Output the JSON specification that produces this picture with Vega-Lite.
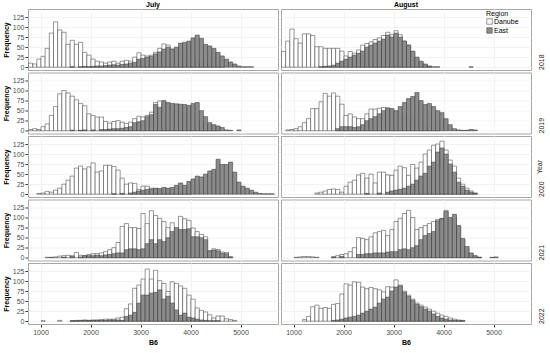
{
"$schema":"https://vega.github.io/schema/vega-lite/v6.json",
"padding":{"left":2,"top":1,"right":0,"bottom":0},
"bounds":"flush",
"datasets":{"h":[
{"m":"July","y":2018,"r":"Danube","b":750,"n":10},{"m":"July","y":2018,"r":"Danube","b":833,"n":8},{"m":"July","y":2018,"r":"Danube","b":917,"n":20},{"m":"July","y":2018,"r":"Danube","b":1000,"n":27},{"m":"July","y":2018,"r":"Danube","b":1083,"n":47},{"m":"July","y":2018,"r":"Danube","b":1167,"n":85},{"m":"July","y":2018,"r":"Danube","b":1250,"n":113},{"m":"July","y":2018,"r":"Danube","b":1333,"n":93},{"m":"July","y":2018,"r":"Danube","b":1417,"n":87},{"m":"July","y":2018,"r":"Danube","b":1500,"n":57},{"m":"July","y":2018,"r":"Danube","b":1583,"n":67},{"m":"July","y":2018,"r":"Danube","b":1667,"n":57},{"m":"July","y":2018,"r":"Danube","b":1750,"n":62},{"m":"July","y":2018,"r":"Danube","b":1833,"n":37},{"m":"July","y":2018,"r":"Danube","b":1917,"n":30},{"m":"July","y":2018,"r":"Danube","b":2000,"n":20},{"m":"July","y":2018,"r":"Danube","b":2083,"n":15},{"m":"July","y":2018,"r":"Danube","b":2167,"n":13},{"m":"July","y":2018,"r":"Danube","b":2250,"n":10},{"m":"July","y":2018,"r":"Danube","b":2333,"n":13},{"m":"July","y":2018,"r":"Danube","b":2417,"n":15},{"m":"July","y":2018,"r":"Danube","b":2500,"n":10},{"m":"July","y":2018,"r":"Danube","b":2583,"n":15},{"m":"July","y":2018,"r":"Danube","b":2667,"n":17},{"m":"July","y":2018,"r":"Danube","b":2750,"n":15},{"m":"July","y":2018,"r":"Danube","b":2833,"n":25},{"m":"July","y":2018,"r":"Danube","b":2917,"n":36},{"m":"July","y":2018,"r":"Danube","b":3000,"n":30},{"m":"July","y":2018,"r":"Danube","b":3083,"n":28},{"m":"July","y":2018,"r":"Danube","b":3167,"n":30},{"m":"July","y":2018,"r":"Danube","b":3250,"n":37},{"m":"July","y":2018,"r":"Danube","b":3333,"n":47},{"m":"July","y":2018,"r":"Danube","b":3417,"n":58},{"m":"July","y":2018,"r":"Danube","b":3500,"n":55},{"m":"July","y":2018,"r":"Danube","b":3583,"n":45},{"m":"July","y":2018,"r":"Danube","b":3667,"n":40},{"m":"July","y":2018,"r":"Danube","b":3750,"n":38},{"m":"July","y":2018,"r":"Danube","b":3833,"n":35},{"m":"July","y":2018,"r":"Danube","b":3917,"n":30},{"m":"July","y":2018,"r":"Danube","b":4000,"n":25},{"m":"July","y":2018,"r":"Danube","b":4083,"n":20},{"m":"July","y":2018,"r":"Danube","b":4167,"n":15},{"m":"July","y":2018,"r":"Danube","b":4250,"n":10},{"m":"July","y":2018,"r":"Danube","b":4333,"n":8},{"m":"July","y":2018,"r":"Danube","b":4417,"n":5},{"m":"July","y":2018,"r":"Danube","b":4500,"n":3},{"m":"July","y":2018,"r":"Danube","b":4583,"n":2},
{"m":"August","y":2018,"r":"Danube","b":750,"n":39},{"m":"August","y":2018,"r":"Danube","b":833,"n":65},{"m":"August","y":2018,"r":"Danube","b":917,"n":95},{"m":"August","y":2018,"r":"Danube","b":1000,"n":71},{"m":"August","y":2018,"r":"Danube","b":1083,"n":60},{"m":"August","y":2018,"r":"Danube","b":1167,"n":83},{"m":"August","y":2018,"r":"Danube","b":1250,"n":83},{"m":"August","y":2018,"r":"Danube","b":1333,"n":79},{"m":"August","y":2018,"r":"Danube","b":1417,"n":51},{"m":"August","y":2018,"r":"Danube","b":1500,"n":51},{"m":"August","y":2018,"r":"Danube","b":1583,"n":47},{"m":"August","y":2018,"r":"Danube","b":1667,"n":47},{"m":"August","y":2018,"r":"Danube","b":1750,"n":47},{"m":"August","y":2018,"r":"Danube","b":1833,"n":47},{"m":"August","y":2018,"r":"Danube","b":1917,"n":40},{"m":"August","y":2018,"r":"Danube","b":2000,"n":28},{"m":"August","y":2018,"r":"Danube","b":2083,"n":39},{"m":"August","y":2018,"r":"Danube","b":2167,"n":35},{"m":"August","y":2018,"r":"Danube","b":2250,"n":43},{"m":"August","y":2018,"r":"Danube","b":2333,"n":55},{"m":"August","y":2018,"r":"Danube","b":2417,"n":59},{"m":"August","y":2018,"r":"Danube","b":2500,"n":63},{"m":"August","y":2018,"r":"Danube","b":2583,"n":69},{"m":"August","y":2018,"r":"Danube","b":2667,"n":73},{"m":"August","y":2018,"r":"Danube","b":2750,"n":79},{"m":"August","y":2018,"r":"Danube","b":2833,"n":87},{"m":"August","y":2018,"r":"Danube","b":2917,"n":81},{"m":"August","y":2018,"r":"Danube","b":3000,"n":91},{"m":"August","y":2018,"r":"Danube","b":3083,"n":81},{"m":"August","y":2018,"r":"Danube","b":3167,"n":65},{"m":"August","y":2018,"r":"Danube","b":3250,"n":55},{"m":"August","y":2018,"r":"Danube","b":3333,"n":38},{"m":"August","y":2018,"r":"Danube","b":3417,"n":22},{"m":"August","y":2018,"r":"Danube","b":3500,"n":12},{"m":"August","y":2018,"r":"Danube","b":3583,"n":6},{"m":"August","y":2018,"r":"Danube","b":3667,"n":2},
{"m":"July","y":2019,"r":"Danube","b":750,"n":3},{"m":"July","y":2019,"r":"Danube","b":833,"n":5},{"m":"July","y":2019,"r":"Danube","b":917,"n":3},{"m":"July","y":2019,"r":"Danube","b":1000,"n":10},{"m":"July","y":2019,"r":"Danube","b":1083,"n":17},{"m":"July","y":2019,"r":"Danube","b":1167,"n":38},{"m":"July","y":2019,"r":"Danube","b":1250,"n":60},{"m":"July","y":2019,"r":"Danube","b":1333,"n":92},{"m":"July","y":2019,"r":"Danube","b":1417,"n":100},{"m":"July","y":2019,"r":"Danube","b":1500,"n":94},{"m":"July","y":2019,"r":"Danube","b":1583,"n":86},{"m":"July","y":2019,"r":"Danube","b":1667,"n":77},{"m":"July","y":2019,"r":"Danube","b":1750,"n":68},{"m":"July","y":2019,"r":"Danube","b":1833,"n":62},{"m":"July","y":2019,"r":"Danube","b":1917,"n":42},{"m":"July","y":2019,"r":"Danube","b":2000,"n":38},{"m":"July","y":2019,"r":"Danube","b":2083,"n":34},{"m":"July","y":2019,"r":"Danube","b":2167,"n":34},{"m":"July","y":2019,"r":"Danube","b":2250,"n":23},{"m":"July","y":2019,"r":"Danube","b":2333,"n":19},{"m":"July","y":2019,"r":"Danube","b":2417,"n":23},{"m":"July","y":2019,"r":"Danube","b":2500,"n":25},{"m":"July","y":2019,"r":"Danube","b":2583,"n":21},{"m":"July","y":2019,"r":"Danube","b":2667,"n":18},{"m":"July","y":2019,"r":"Danube","b":2750,"n":21},{"m":"July","y":2019,"r":"Danube","b":2833,"n":30},{"m":"July","y":2019,"r":"Danube","b":2917,"n":36},{"m":"July","y":2019,"r":"Danube","b":3000,"n":34},{"m":"July","y":2019,"r":"Danube","b":3083,"n":38},{"m":"July","y":2019,"r":"Danube","b":3167,"n":46},{"m":"July","y":2019,"r":"Danube","b":3250,"n":70},{"m":"July","y":2019,"r":"Danube","b":3333,"n":74},{"m":"July","y":2019,"r":"Danube","b":3417,"n":65},{"m":"July","y":2019,"r":"Danube","b":3500,"n":60},{"m":"July","y":2019,"r":"Danube","b":3583,"n":55},{"m":"July","y":2019,"r":"Danube","b":3667,"n":50},{"m":"July","y":2019,"r":"Danube","b":3750,"n":45},{"m":"July","y":2019,"r":"Danube","b":3833,"n":40},{"m":"July","y":2019,"r":"Danube","b":3917,"n":35},{"m":"July","y":2019,"r":"Danube","b":4000,"n":30},{"m":"July","y":2019,"r":"Danube","b":4083,"n":25},{"m":"July","y":2019,"r":"Danube","b":4167,"n":18},{"m":"July","y":2019,"r":"Danube","b":4250,"n":12},{"m":"July","y":2019,"r":"Danube","b":4333,"n":8},{"m":"July","y":2019,"r":"Danube","b":4417,"n":5},{"m":"July","y":2019,"r":"Danube","b":4500,"n":3},
{"m":"August","y":2019,"r":"Danube","b":833,"n":2},{"m":"August","y":2019,"r":"Danube","b":917,"n":3},{"m":"August","y":2019,"r":"Danube","b":1000,"n":5},{"m":"August","y":2019,"r":"Danube","b":1083,"n":10},{"m":"August","y":2019,"r":"Danube","b":1167,"n":20},{"m":"August","y":2019,"r":"Danube","b":1250,"n":30},{"m":"August","y":2019,"r":"Danube","b":1333,"n":55},{"m":"August","y":2019,"r":"Danube","b":1417,"n":55},{"m":"August","y":2019,"r":"Danube","b":1500,"n":72},{"m":"August","y":2019,"r":"Danube","b":1583,"n":93},{"m":"August","y":2019,"r":"Danube","b":1667,"n":86},{"m":"August","y":2019,"r":"Danube","b":1750,"n":94},{"m":"August","y":2019,"r":"Danube","b":1833,"n":86},{"m":"August","y":2019,"r":"Danube","b":1917,"n":66},{"m":"August","y":2019,"r":"Danube","b":2000,"n":38},{"m":"August","y":2019,"r":"Danube","b":2083,"n":42},{"m":"August","y":2019,"r":"Danube","b":2167,"n":34},{"m":"August","y":2019,"r":"Danube","b":2250,"n":30},{"m":"August","y":2019,"r":"Danube","b":2333,"n":30},{"m":"August","y":2019,"r":"Danube","b":2417,"n":42},{"m":"August","y":2019,"r":"Danube","b":2500,"n":54},{"m":"August","y":2019,"r":"Danube","b":2583,"n":54},{"m":"August","y":2019,"r":"Danube","b":2667,"n":56},{"m":"August","y":2019,"r":"Danube","b":2750,"n":58},{"m":"August","y":2019,"r":"Danube","b":2833,"n":55},{"m":"August","y":2019,"r":"Danube","b":2917,"n":50},{"m":"August","y":2019,"r":"Danube","b":3000,"n":45},{"m":"August","y":2019,"r":"Danube","b":3083,"n":45},{"m":"August","y":2019,"r":"Danube","b":3167,"n":40},{"m":"August","y":2019,"r":"Danube","b":3250,"n":35},{"m":"August","y":2019,"r":"Danube","b":3333,"n":30},{"m":"August","y":2019,"r":"Danube","b":3417,"n":25},{"m":"August","y":2019,"r":"Danube","b":3500,"n":20},{"m":"August","y":2019,"r":"Danube","b":3583,"n":15},{"m":"August","y":2019,"r":"Danube","b":3667,"n":10},{"m":"August","y":2019,"r":"Danube","b":3750,"n":8},{"m":"August","y":2019,"r":"Danube","b":3833,"n":5},
{"m":"July","y":2020,"r":"Danube","b":917,"n":2},{"m":"July","y":2020,"r":"Danube","b":1000,"n":3},{"m":"July","y":2020,"r":"Danube","b":1083,"n":7},{"m":"July","y":2020,"r":"Danube","b":1167,"n":5},{"m":"July","y":2020,"r":"Danube","b":1250,"n":10},{"m":"July","y":2020,"r":"Danube","b":1333,"n":15},{"m":"July","y":2020,"r":"Danube","b":1417,"n":25},{"m":"July","y":2020,"r":"Danube","b":1500,"n":35},{"m":"July","y":2020,"r":"Danube","b":1583,"n":45},{"m":"July","y":2020,"r":"Danube","b":1667,"n":65},{"m":"July","y":2020,"r":"Danube","b":1750,"n":70},{"m":"July","y":2020,"r":"Danube","b":1833,"n":63},{"m":"July","y":2020,"r":"Danube","b":1917,"n":68},{"m":"July","y":2020,"r":"Danube","b":2000,"n":78},{"m":"July","y":2020,"r":"Danube","b":2083,"n":55},{"m":"July","y":2020,"r":"Danube","b":2167,"n":58},{"m":"July","y":2020,"r":"Danube","b":2250,"n":72},{"m":"July","y":2020,"r":"Danube","b":2333,"n":72},{"m":"July","y":2020,"r":"Danube","b":2417,"n":69},{"m":"July","y":2020,"r":"Danube","b":2500,"n":60},{"m":"July","y":2020,"r":"Danube","b":2583,"n":40},{"m":"July","y":2020,"r":"Danube","b":2667,"n":25},{"m":"July","y":2020,"r":"Danube","b":2750,"n":28},{"m":"July","y":2020,"r":"Danube","b":2833,"n":27},{"m":"July","y":2020,"r":"Danube","b":2917,"n":12},{"m":"July","y":2020,"r":"Danube","b":3000,"n":20},{"m":"July","y":2020,"r":"Danube","b":3083,"n":20},{"m":"July","y":2020,"r":"Danube","b":3167,"n":15},{"m":"July","y":2020,"r":"Danube","b":3250,"n":14},{"m":"July","y":2020,"r":"Danube","b":3333,"n":12},{"m":"July","y":2020,"r":"Danube","b":3417,"n":10},{"m":"July","y":2020,"r":"Danube","b":3500,"n":8},{"m":"July","y":2020,"r":"Danube","b":3583,"n":6},{"m":"July","y":2020,"r":"Danube","b":3667,"n":5},{"m":"July","y":2020,"r":"Danube","b":3750,"n":4},{"m":"July","y":2020,"r":"Danube","b":3833,"n":3},{"m":"July","y":2020,"r":"Danube","b":3917,"n":2},
{"m":"August","y":2020,"r":"Danube","b":1417,"n":3},{"m":"August","y":2020,"r":"Danube","b":1500,"n":5},{"m":"August","y":2020,"r":"Danube","b":1583,"n":8},{"m":"August","y":2020,"r":"Danube","b":1667,"n":12},{"m":"August","y":2020,"r":"Danube","b":1750,"n":13},{"m":"August","y":2020,"r":"Danube","b":1833,"n":12},{"m":"August","y":2020,"r":"Danube","b":1917,"n":5},{"m":"August","y":2020,"r":"Danube","b":2000,"n":20},{"m":"August","y":2020,"r":"Danube","b":2083,"n":30},{"m":"August","y":2020,"r":"Danube","b":2167,"n":35},{"m":"August","y":2020,"r":"Danube","b":2250,"n":48},{"m":"August","y":2020,"r":"Danube","b":2333,"n":52},{"m":"August","y":2020,"r":"Danube","b":2417,"n":40},{"m":"August","y":2020,"r":"Danube","b":2500,"n":50},{"m":"August","y":2020,"r":"Danube","b":2583,"n":28},{"m":"August","y":2020,"r":"Danube","b":2667,"n":55},{"m":"August","y":2020,"r":"Danube","b":2750,"n":55},{"m":"August","y":2020,"r":"Danube","b":2833,"n":48},{"m":"August","y":2020,"r":"Danube","b":2917,"n":47},{"m":"August","y":2020,"r":"Danube","b":3000,"n":60},{"m":"August","y":2020,"r":"Danube","b":3083,"n":70},{"m":"August","y":2020,"r":"Danube","b":3167,"n":66},{"m":"August","y":2020,"r":"Danube","b":3250,"n":47},{"m":"August","y":2020,"r":"Danube","b":3333,"n":74},{"m":"August","y":2020,"r":"Danube","b":3417,"n":65},{"m":"August","y":2020,"r":"Danube","b":3500,"n":80},{"m":"August","y":2020,"r":"Danube","b":3583,"n":100},{"m":"August","y":2020,"r":"Danube","b":3667,"n":110},{"m":"August","y":2020,"r":"Danube","b":3750,"n":122},{"m":"August","y":2020,"r":"Danube","b":3833,"n":125},{"m":"August","y":2020,"r":"Danube","b":3917,"n":132},{"m":"August","y":2020,"r":"Danube","b":4000,"n":110},{"m":"August","y":2020,"r":"Danube","b":4083,"n":85},{"m":"August","y":2020,"r":"Danube","b":4167,"n":70},{"m":"August","y":2020,"r":"Danube","b":4250,"n":40},{"m":"August","y":2020,"r":"Danube","b":4333,"n":25},{"m":"August","y":2020,"r":"Danube","b":4417,"n":15},{"m":"August","y":2020,"r":"Danube","b":4500,"n":8},{"m":"August","y":2020,"r":"Danube","b":4583,"n":3},
{"m":"July","y":2021,"r":"Danube","b":1083,"n":1},{"m":"July","y":2021,"r":"Danube","b":1250,"n":2},{"m":"July","y":2021,"r":"Danube","b":1333,"n":4},{"m":"July","y":2021,"r":"Danube","b":1417,"n":5},{"m":"July","y":2021,"r":"Danube","b":1500,"n":6},{"m":"July","y":2021,"r":"Danube","b":1583,"n":5},{"m":"July","y":2021,"r":"Danube","b":1667,"n":13},{"m":"July","y":2021,"r":"Danube","b":1750,"n":6},{"m":"July","y":2021,"r":"Danube","b":1833,"n":5},{"m":"July","y":2021,"r":"Danube","b":1917,"n":8},{"m":"July","y":2021,"r":"Danube","b":2000,"n":10},{"m":"July","y":2021,"r":"Danube","b":2083,"n":10},{"m":"July","y":2021,"r":"Danube","b":2167,"n":12},{"m":"July","y":2021,"r":"Danube","b":2250,"n":15},{"m":"July","y":2021,"r":"Danube","b":2333,"n":20},{"m":"July","y":2021,"r":"Danube","b":2417,"n":25},{"m":"July","y":2021,"r":"Danube","b":2500,"n":38},{"m":"July","y":2021,"r":"Danube","b":2583,"n":78},{"m":"July","y":2021,"r":"Danube","b":2667,"n":85},{"m":"July","y":2021,"r":"Danube","b":2750,"n":75},{"m":"July","y":2021,"r":"Danube","b":2833,"n":75},{"m":"July","y":2021,"r":"Danube","b":2917,"n":73},{"m":"July","y":2021,"r":"Danube","b":3000,"n":110},{"m":"July","y":2021,"r":"Danube","b":3083,"n":85},{"m":"July","y":2021,"r":"Danube","b":3167,"n":117},{"m":"July","y":2021,"r":"Danube","b":3250,"n":105},{"m":"July","y":2021,"r":"Danube","b":3333,"n":98},{"m":"July","y":2021,"r":"Danube","b":3417,"n":90},{"m":"July","y":2021,"r":"Danube","b":3500,"n":75},{"m":"July","y":2021,"r":"Danube","b":3583,"n":87},{"m":"July","y":2021,"r":"Danube","b":3667,"n":55},{"m":"July","y":2021,"r":"Danube","b":3750,"n":103},{"m":"July","y":2021,"r":"Danube","b":3833,"n":97},{"m":"July","y":2021,"r":"Danube","b":3917,"n":93},{"m":"July","y":2021,"r":"Danube","b":4000,"n":74},{"m":"July","y":2021,"r":"Danube","b":4083,"n":65},{"m":"July","y":2021,"r":"Danube","b":4167,"n":58},{"m":"July","y":2021,"r":"Danube","b":4250,"n":52},{"m":"July","y":2021,"r":"Danube","b":4333,"n":18},{"m":"July","y":2021,"r":"Danube","b":4417,"n":22},{"m":"July","y":2021,"r":"Danube","b":4500,"n":20},{"m":"July","y":2021,"r":"Danube","b":4583,"n":14},{"m":"July","y":2021,"r":"Danube","b":4667,"n":13},{"m":"July","y":2021,"r":"Danube","b":4750,"n":2},
{"m":"August","y":2021,"r":"Danube","b":1000,"n":1},{"m":"August","y":2021,"r":"Danube","b":1083,"n":2},{"m":"August","y":2021,"r":"Danube","b":1167,"n":3},{"m":"August","y":2021,"r":"Danube","b":1250,"n":3},{"m":"August","y":2021,"r":"Danube","b":1333,"n":2},{"m":"August","y":2021,"r":"Danube","b":1417,"n":1},{"m":"August","y":2021,"r":"Danube","b":1750,"n":2},{"m":"August","y":2021,"r":"Danube","b":1833,"n":5},{"m":"August","y":2021,"r":"Danube","b":1917,"n":8},{"m":"August","y":2021,"r":"Danube","b":2000,"n":10},{"m":"August","y":2021,"r":"Danube","b":2083,"n":15},{"m":"August","y":2021,"r":"Danube","b":2167,"n":25},{"m":"August","y":2021,"r":"Danube","b":2250,"n":50},{"m":"August","y":2021,"r":"Danube","b":2333,"n":48},{"m":"August","y":2021,"r":"Danube","b":2417,"n":45},{"m":"August","y":2021,"r":"Danube","b":2500,"n":52},{"m":"August","y":2021,"r":"Danube","b":2583,"n":62},{"m":"August","y":2021,"r":"Danube","b":2667,"n":65},{"m":"August","y":2021,"r":"Danube","b":2750,"n":68},{"m":"August","y":2021,"r":"Danube","b":2833,"n":55},{"m":"August","y":2021,"r":"Danube","b":2917,"n":70},{"m":"August","y":2021,"r":"Danube","b":3000,"n":90},{"m":"August","y":2021,"r":"Danube","b":3083,"n":98},{"m":"August","y":2021,"r":"Danube","b":3167,"n":110},{"m":"August","y":2021,"r":"Danube","b":3250,"n":118},{"m":"August","y":2021,"r":"Danube","b":3333,"n":100},{"m":"August","y":2021,"r":"Danube","b":3417,"n":70},{"m":"August","y":2021,"r":"Danube","b":3500,"n":75},{"m":"August","y":2021,"r":"Danube","b":3583,"n":80},{"m":"August","y":2021,"r":"Danube","b":3667,"n":85},{"m":"August","y":2021,"r":"Danube","b":3750,"n":90},{"m":"August","y":2021,"r":"Danube","b":3833,"n":95},{"m":"August","y":2021,"r":"Danube","b":3917,"n":98},{"m":"August","y":2021,"r":"Danube","b":4000,"n":118},{"m":"August","y":2021,"r":"Danube","b":4083,"n":95},{"m":"August","y":2021,"r":"Danube","b":4167,"n":100},{"m":"August","y":2021,"r":"Danube","b":4250,"n":78},{"m":"August","y":2021,"r":"Danube","b":4333,"n":45},{"m":"August","y":2021,"r":"Danube","b":4417,"n":25},{"m":"August","y":2021,"r":"Danube","b":4500,"n":10},{"m":"August","y":2021,"r":"Danube","b":4583,"n":4},{"m":"August","y":2021,"r":"Danube","b":4667,"n":1},
{"m":"July","y":2022,"r":"Danube","b":1000,"n":1},{"m":"July","y":2022,"r":"Danube","b":1333,"n":2},{"m":"July","y":2022,"r":"Danube","b":1583,"n":1},{"m":"July","y":2022,"r":"Danube","b":1667,"n":2},{"m":"July","y":2022,"r":"Danube","b":1750,"n":2},{"m":"July","y":2022,"r":"Danube","b":1833,"n":3},{"m":"July","y":2022,"r":"Danube","b":1917,"n":2},{"m":"July","y":2022,"r":"Danube","b":2000,"n":3},{"m":"July","y":2022,"r":"Danube","b":2083,"n":3},{"m":"July","y":2022,"r":"Danube","b":2167,"n":4},{"m":"July","y":2022,"r":"Danube","b":2250,"n":5},{"m":"July","y":2022,"r":"Danube","b":2333,"n":5},{"m":"July","y":2022,"r":"Danube","b":2417,"n":5},{"m":"July","y":2022,"r":"Danube","b":2500,"n":8},{"m":"July","y":2022,"r":"Danube","b":2583,"n":10},{"m":"July","y":2022,"r":"Danube","b":2667,"n":31},{"m":"July","y":2022,"r":"Danube","b":2750,"n":43},{"m":"July","y":2022,"r":"Danube","b":2833,"n":82},{"m":"July","y":2022,"r":"Danube","b":2917,"n":90},{"m":"July","y":2022,"r":"Danube","b":3000,"n":105},{"m":"July","y":2022,"r":"Danube","b":3083,"n":130},{"m":"July","y":2022,"r":"Danube","b":3167,"n":105},{"m":"July","y":2022,"r":"Danube","b":3250,"n":127},{"m":"July","y":2022,"r":"Danube","b":3333,"n":101},{"m":"July","y":2022,"r":"Danube","b":3417,"n":94},{"m":"July","y":2022,"r":"Danube","b":3500,"n":74},{"m":"July","y":2022,"r":"Danube","b":3583,"n":98},{"m":"July","y":2022,"r":"Danube","b":3667,"n":94},{"m":"July","y":2022,"r":"Danube","b":3750,"n":88},{"m":"July","y":2022,"r":"Danube","b":3833,"n":82},{"m":"July","y":2022,"r":"Danube","b":3917,"n":65},{"m":"July","y":2022,"r":"Danube","b":4000,"n":55},{"m":"July","y":2022,"r":"Danube","b":4083,"n":33},{"m":"July","y":2022,"r":"Danube","b":4167,"n":27},{"m":"July","y":2022,"r":"Danube","b":4250,"n":23},{"m":"July","y":2022,"r":"Danube","b":4333,"n":16},{"m":"July","y":2022,"r":"Danube","b":4417,"n":8},{"m":"July","y":2022,"r":"Danube","b":4500,"n":13},{"m":"July","y":2022,"r":"Danube","b":4583,"n":13},{"m":"July","y":2022,"r":"Danube","b":4667,"n":6},{"m":"July","y":2022,"r":"Danube","b":4750,"n":4},{"m":"July","y":2022,"r":"Danube","b":4833,"n":2},
{"m":"August","y":2022,"r":"Danube","b":1167,"n":4},{"m":"August","y":2022,"r":"Danube","b":1250,"n":12},{"m":"August","y":2022,"r":"Danube","b":1333,"n":36},{"m":"August","y":2022,"r":"Danube","b":1417,"n":40},{"m":"August","y":2022,"r":"Danube","b":1500,"n":32},{"m":"August","y":2022,"r":"Danube","b":1583,"n":34},{"m":"August","y":2022,"r":"Danube","b":1667,"n":32},{"m":"August","y":2022,"r":"Danube","b":1750,"n":42},{"m":"August","y":2022,"r":"Danube","b":1833,"n":44},{"m":"August","y":2022,"r":"Danube","b":1917,"n":68},{"m":"August","y":2022,"r":"Danube","b":2000,"n":93},{"m":"August","y":2022,"r":"Danube","b":2083,"n":90},{"m":"August","y":2022,"r":"Danube","b":2167,"n":98},{"m":"August","y":2022,"r":"Danube","b":2250,"n":97},{"m":"August","y":2022,"r":"Danube","b":2333,"n":85},{"m":"August","y":2022,"r":"Danube","b":2417,"n":81},{"m":"August","y":2022,"r":"Danube","b":2500,"n":84},{"m":"August","y":2022,"r":"Danube","b":2583,"n":81},{"m":"August","y":2022,"r":"Danube","b":2667,"n":78},{"m":"August","y":2022,"r":"Danube","b":2750,"n":73},{"m":"August","y":2022,"r":"Danube","b":2833,"n":86},{"m":"August","y":2022,"r":"Danube","b":2917,"n":85},{"m":"August","y":2022,"r":"Danube","b":3000,"n":103},{"m":"August","y":2022,"r":"Danube","b":3083,"n":90},{"m":"August","y":2022,"r":"Danube","b":3167,"n":75},{"m":"August","y":2022,"r":"Danube","b":3250,"n":65},{"m":"August","y":2022,"r":"Danube","b":3333,"n":55},{"m":"August","y":2022,"r":"Danube","b":3417,"n":45},{"m":"August","y":2022,"r":"Danube","b":3500,"n":40},{"m":"August","y":2022,"r":"Danube","b":3583,"n":35},{"m":"August","y":2022,"r":"Danube","b":3667,"n":30},{"m":"August","y":2022,"r":"Danube","b":3750,"n":25},{"m":"August","y":2022,"r":"Danube","b":3833,"n":20},{"m":"August","y":2022,"r":"Danube","b":3917,"n":15},{"m":"August","y":2022,"r":"Danube","b":4000,"n":12},{"m":"August","y":2022,"r":"Danube","b":4083,"n":8},{"m":"August","y":2022,"r":"Danube","b":4167,"n":5},{"m":"August","y":2022,"r":"Danube","b":4250,"n":3},{"m":"August","y":2022,"r":"Danube","b":4333,"n":2},
{"m":"July","y":2018,"r":"East","b":1583,"n":1},{"m":"July","y":2018,"r":"East","b":1750,"n":1},{"m":"July","y":2018,"r":"East","b":1833,"n":2},{"m":"July","y":2018,"r":"East","b":1917,"n":1},{"m":"July","y":2018,"r":"East","b":2000,"n":2},{"m":"July","y":2018,"r":"East","b":2083,"n":3},{"m":"July","y":2018,"r":"East","b":2167,"n":3},{"m":"July","y":2018,"r":"East","b":2250,"n":4},{"m":"July","y":2018,"r":"East","b":2333,"n":5},{"m":"July","y":2018,"r":"East","b":2417,"n":6},{"m":"July","y":2018,"r":"East","b":2500,"n":5},{"m":"July","y":2018,"r":"East","b":2583,"n":7},{"m":"July","y":2018,"r":"East","b":2667,"n":8},{"m":"July","y":2018,"r":"East","b":2750,"n":10},{"m":"July","y":2018,"r":"East","b":2833,"n":12},{"m":"July","y":2018,"r":"East","b":2917,"n":20},{"m":"July","y":2018,"r":"East","b":3000,"n":22},{"m":"July","y":2018,"r":"East","b":3083,"n":25},{"m":"July","y":2018,"r":"East","b":3167,"n":27},{"m":"July","y":2018,"r":"East","b":3250,"n":33},{"m":"July","y":2018,"r":"East","b":3333,"n":38},{"m":"July","y":2018,"r":"East","b":3417,"n":45},{"m":"July","y":2018,"r":"East","b":3500,"n":50},{"m":"July","y":2018,"r":"East","b":3583,"n":45},{"m":"July","y":2018,"r":"East","b":3667,"n":50},{"m":"July","y":2018,"r":"East","b":3750,"n":60},{"m":"July","y":2018,"r":"East","b":3833,"n":62},{"m":"July","y":2018,"r":"East","b":3917,"n":65},{"m":"July","y":2018,"r":"East","b":4000,"n":73},{"m":"July","y":2018,"r":"East","b":4083,"n":80},{"m":"July","y":2018,"r":"East","b":4167,"n":72},{"m":"July","y":2018,"r":"East","b":4250,"n":57},{"m":"July","y":2018,"r":"East","b":4333,"n":53},{"m":"July","y":2018,"r":"East","b":4417,"n":47},{"m":"July","y":2018,"r":"East","b":4500,"n":37},{"m":"July","y":2018,"r":"East","b":4583,"n":28},{"m":"July","y":2018,"r":"East","b":4667,"n":20},{"m":"July","y":2018,"r":"East","b":4750,"n":13},{"m":"July","y":2018,"r":"East","b":4833,"n":8},{"m":"July","y":2018,"r":"East","b":4917,"n":3},{"m":"July","y":2018,"r":"East","b":5000,"n":1},{"m":"July","y":2018,"r":"East","b":5083,"n":1},{"m":"July","y":2018,"r":"East","b":5167,"n":1},
{"m":"August","y":2018,"r":"East","b":1500,"n":1},{"m":"August","y":2018,"r":"East","b":1583,"n":2},{"m":"August","y":2018,"r":"East","b":1667,"n":3},{"m":"August","y":2018,"r":"East","b":1750,"n":5},{"m":"August","y":2018,"r":"East","b":1833,"n":10},{"m":"August","y":2018,"r":"East","b":1917,"n":15},{"m":"August","y":2018,"r":"East","b":2000,"n":20},{"m":"August","y":2018,"r":"East","b":2083,"n":25},{"m":"August","y":2018,"r":"East","b":2167,"n":30},{"m":"August","y":2018,"r":"East","b":2250,"n":35},{"m":"August","y":2018,"r":"East","b":2333,"n":40},{"m":"August","y":2018,"r":"East","b":2417,"n":50},{"m":"August","y":2018,"r":"East","b":2500,"n":55},{"m":"August","y":2018,"r":"East","b":2583,"n":60},{"m":"August","y":2018,"r":"East","b":2667,"n":65},{"m":"August","y":2018,"r":"East","b":2750,"n":70},{"m":"August","y":2018,"r":"East","b":2833,"n":80},{"m":"August","y":2018,"r":"East","b":2917,"n":75},{"m":"August","y":2018,"r":"East","b":3000,"n":85},{"m":"August","y":2018,"r":"East","b":3083,"n":75},{"m":"August","y":2018,"r":"East","b":3167,"n":65},{"m":"August","y":2018,"r":"East","b":3250,"n":55},{"m":"August","y":2018,"r":"East","b":3333,"n":40},{"m":"August","y":2018,"r":"East","b":3417,"n":25},{"m":"August","y":2018,"r":"East","b":3500,"n":15},{"m":"August","y":2018,"r":"East","b":3583,"n":8},{"m":"August","y":2018,"r":"East","b":3667,"n":3},{"m":"August","y":2018,"r":"East","b":3750,"n":1},{"m":"August","y":2018,"r":"East","b":3833,"n":1},{"m":"August","y":2018,"r":"East","b":4500,"n":1},
{"m":"July","y":2019,"r":"East","b":1583,"n":1},{"m":"July","y":2019,"r":"East","b":1750,"n":1},{"m":"July","y":2019,"r":"East","b":1833,"n":2},{"m":"July","y":2019,"r":"East","b":2000,"n":2},{"m":"July","y":2019,"r":"East","b":2167,"n":3},{"m":"July","y":2019,"r":"East","b":2250,"n":3},{"m":"July","y":2019,"r":"East","b":2333,"n":4},{"m":"July","y":2019,"r":"East","b":2417,"n":5},{"m":"July","y":2019,"r":"East","b":2500,"n":5},{"m":"July","y":2019,"r":"East","b":2583,"n":6},{"m":"July","y":2019,"r":"East","b":2667,"n":8},{"m":"July","y":2019,"r":"East","b":2750,"n":10},{"m":"July","y":2019,"r":"East","b":2833,"n":20},{"m":"July","y":2019,"r":"East","b":2917,"n":22},{"m":"July","y":2019,"r":"East","b":3000,"n":25},{"m":"July","y":2019,"r":"East","b":3083,"n":35},{"m":"July","y":2019,"r":"East","b":3167,"n":40},{"m":"July","y":2019,"r":"East","b":3250,"n":65},{"m":"July","y":2019,"r":"East","b":3333,"n":58},{"m":"July","y":2019,"r":"East","b":3417,"n":75},{"m":"July","y":2019,"r":"East","b":3500,"n":70},{"m":"July","y":2019,"r":"East","b":3583,"n":68},{"m":"July","y":2019,"r":"East","b":3667,"n":67},{"m":"July","y":2019,"r":"East","b":3750,"n":66},{"m":"July","y":2019,"r":"East","b":3833,"n":65},{"m":"July","y":2019,"r":"East","b":3917,"n":63},{"m":"July","y":2019,"r":"East","b":4000,"n":68},{"m":"July","y":2019,"r":"East","b":4083,"n":70},{"m":"July","y":2019,"r":"East","b":4167,"n":50},{"m":"July","y":2019,"r":"East","b":4250,"n":35},{"m":"July","y":2019,"r":"East","b":4333,"n":20},{"m":"July","y":2019,"r":"East","b":4417,"n":15},{"m":"July","y":2019,"r":"East","b":4500,"n":12},{"m":"July","y":2019,"r":"East","b":4583,"n":8},{"m":"July","y":2019,"r":"East","b":4667,"n":2},{"m":"July","y":2019,"r":"East","b":4750,"n":1},{"m":"July","y":2019,"r":"East","b":4917,"n":2},
{"m":"August","y":2019,"r":"East","b":1833,"n":5},{"m":"August","y":2019,"r":"East","b":1917,"n":10},{"m":"August","y":2019,"r":"East","b":2000,"n":10},{"m":"August","y":2019,"r":"East","b":2083,"n":10},{"m":"August","y":2019,"r":"East","b":2167,"n":8},{"m":"August","y":2019,"r":"East","b":2250,"n":10},{"m":"August","y":2019,"r":"East","b":2333,"n":15},{"m":"August","y":2019,"r":"East","b":2417,"n":25},{"m":"August","y":2019,"r":"East","b":2500,"n":30},{"m":"August","y":2019,"r":"East","b":2583,"n":35},{"m":"August","y":2019,"r":"East","b":2667,"n":42},{"m":"August","y":2019,"r":"East","b":2750,"n":50},{"m":"August","y":2019,"r":"East","b":2833,"n":57},{"m":"August","y":2019,"r":"East","b":2917,"n":55},{"m":"August","y":2019,"r":"East","b":3000,"n":50},{"m":"August","y":2019,"r":"East","b":3083,"n":60},{"m":"August","y":2019,"r":"East","b":3167,"n":70},{"m":"August","y":2019,"r":"East","b":3250,"n":80},{"m":"August","y":2019,"r":"East","b":3333,"n":85},{"m":"August","y":2019,"r":"East","b":3417,"n":95},{"m":"August","y":2019,"r":"East","b":3500,"n":75},{"m":"August","y":2019,"r":"East","b":3583,"n":65},{"m":"August","y":2019,"r":"East","b":3667,"n":68},{"m":"August","y":2019,"r":"East","b":3750,"n":60},{"m":"August","y":2019,"r":"East","b":3833,"n":50},{"m":"August","y":2019,"r":"East","b":3917,"n":45},{"m":"August","y":2019,"r":"East","b":4000,"n":30},{"m":"August","y":2019,"r":"East","b":4083,"n":15},{"m":"August","y":2019,"r":"East","b":4167,"n":5},{"m":"August","y":2019,"r":"East","b":4250,"n":2},{"m":"August","y":2019,"r":"East","b":4333,"n":1},{"m":"August","y":2019,"r":"East","b":4417,"n":1},{"m":"August","y":2019,"r":"East","b":4500,"n":3},{"m":"August","y":2019,"r":"East","b":4583,"n":2},
{"m":"July","y":2020,"r":"East","b":2417,"n":1},{"m":"July","y":2020,"r":"East","b":2583,"n":2},{"m":"July","y":2020,"r":"East","b":2750,"n":3},{"m":"July","y":2020,"r":"East","b":2833,"n":5},{"m":"July","y":2020,"r":"East","b":2917,"n":8},{"m":"July","y":2020,"r":"East","b":3000,"n":10},{"m":"July","y":2020,"r":"East","b":3083,"n":12},{"m":"July","y":2020,"r":"East","b":3167,"n":13},{"m":"July","y":2020,"r":"East","b":3250,"n":15},{"m":"July","y":2020,"r":"East","b":3333,"n":14},{"m":"July","y":2020,"r":"East","b":3417,"n":17},{"m":"July","y":2020,"r":"East","b":3500,"n":15},{"m":"July","y":2020,"r":"East","b":3583,"n":17},{"m":"July","y":2020,"r":"East","b":3667,"n":22},{"m":"July","y":2020,"r":"East","b":3750,"n":28},{"m":"July","y":2020,"r":"East","b":3833,"n":22},{"m":"July","y":2020,"r":"East","b":3917,"n":32},{"m":"July","y":2020,"r":"East","b":4000,"n":38},{"m":"July","y":2020,"r":"East","b":4083,"n":45},{"m":"July","y":2020,"r":"East","b":4167,"n":43},{"m":"July","y":2020,"r":"East","b":4250,"n":50},{"m":"July","y":2020,"r":"East","b":4333,"n":58},{"m":"July","y":2020,"r":"East","b":4417,"n":62},{"m":"July","y":2020,"r":"East","b":4500,"n":87},{"m":"July","y":2020,"r":"East","b":4583,"n":74},{"m":"July","y":2020,"r":"East","b":4667,"n":74},{"m":"July","y":2020,"r":"East","b":4750,"n":80},{"m":"July","y":2020,"r":"East","b":4833,"n":55},{"m":"July","y":2020,"r":"East","b":4917,"n":30},{"m":"July","y":2020,"r":"East","b":5000,"n":20},{"m":"July","y":2020,"r":"East","b":5083,"n":15},{"m":"July","y":2020,"r":"East","b":5167,"n":10},{"m":"July","y":2020,"r":"East","b":5250,"n":5},{"m":"July","y":2020,"r":"East","b":5333,"n":2},{"m":"July","y":2020,"r":"East","b":5417,"n":1},{"m":"July","y":2020,"r":"East","b":5500,"n":1},{"m":"July","y":2020,"r":"East","b":5583,"n":1},
{"m":"August","y":2020,"r":"East","b":2417,"n":2},{"m":"August","y":2020,"r":"East","b":2667,"n":3},{"m":"August","y":2020,"r":"East","b":2833,"n":5},{"m":"August","y":2020,"r":"East","b":2917,"n":8},{"m":"August","y":2020,"r":"East","b":3000,"n":10},{"m":"August","y":2020,"r":"East","b":3083,"n":12},{"m":"August","y":2020,"r":"East","b":3167,"n":15},{"m":"August","y":2020,"r":"East","b":3250,"n":20},{"m":"August","y":2020,"r":"East","b":3333,"n":25},{"m":"August","y":2020,"r":"East","b":3417,"n":35},{"m":"August","y":2020,"r":"East","b":3500,"n":45},{"m":"August","y":2020,"r":"East","b":3583,"n":52},{"m":"August","y":2020,"r":"East","b":3667,"n":70},{"m":"August","y":2020,"r":"East","b":3750,"n":80},{"m":"August","y":2020,"r":"East","b":3833,"n":105},{"m":"August","y":2020,"r":"East","b":3917,"n":115},{"m":"August","y":2020,"r":"East","b":4000,"n":100},{"m":"August","y":2020,"r":"East","b":4083,"n":75},{"m":"August","y":2020,"r":"East","b":4167,"n":55},{"m":"August","y":2020,"r":"East","b":4250,"n":30},{"m":"August","y":2020,"r":"East","b":4333,"n":20},{"m":"August","y":2020,"r":"East","b":4417,"n":10},{"m":"August","y":2020,"r":"East","b":4500,"n":5},{"m":"August","y":2020,"r":"East","b":4583,"n":2},
{"m":"July","y":2021,"r":"East","b":1167,"n":1},{"m":"July","y":2021,"r":"East","b":1417,"n":1},{"m":"July","y":2021,"r":"East","b":1583,"n":3},{"m":"July","y":2021,"r":"East","b":1750,"n":2},{"m":"July","y":2021,"r":"East","b":1833,"n":5},{"m":"July","y":2021,"r":"East","b":1917,"n":5},{"m":"July","y":2021,"r":"East","b":2000,"n":5},{"m":"July","y":2021,"r":"East","b":2083,"n":6},{"m":"July","y":2021,"r":"East","b":2167,"n":5},{"m":"July","y":2021,"r":"East","b":2250,"n":7},{"m":"July","y":2021,"r":"East","b":2333,"n":8},{"m":"July","y":2021,"r":"East","b":2417,"n":10},{"m":"July","y":2021,"r":"East","b":2500,"n":12},{"m":"July","y":2021,"r":"East","b":2583,"n":12},{"m":"July","y":2021,"r":"East","b":2667,"n":20},{"m":"July","y":2021,"r":"East","b":2750,"n":22},{"m":"July","y":2021,"r":"East","b":2833,"n":22},{"m":"July","y":2021,"r":"East","b":2917,"n":20},{"m":"July","y":2021,"r":"East","b":3000,"n":22},{"m":"July","y":2021,"r":"East","b":3083,"n":35},{"m":"July","y":2021,"r":"East","b":3167,"n":45},{"m":"July","y":2021,"r":"East","b":3250,"n":35},{"m":"July","y":2021,"r":"East","b":3333,"n":45},{"m":"July","y":2021,"r":"East","b":3417,"n":40},{"m":"July","y":2021,"r":"East","b":3500,"n":50},{"m":"July","y":2021,"r":"East","b":3583,"n":65},{"m":"July","y":2021,"r":"East","b":3667,"n":75},{"m":"July","y":2021,"r":"East","b":3750,"n":70},{"m":"July","y":2021,"r":"East","b":3833,"n":70},{"m":"July","y":2021,"r":"East","b":3917,"n":72},{"m":"July","y":2021,"r":"East","b":4000,"n":52},{"m":"July","y":2021,"r":"East","b":4083,"n":52},{"m":"July","y":2021,"r":"East","b":4167,"n":50},{"m":"July","y":2021,"r":"East","b":4250,"n":45},{"m":"July","y":2021,"r":"East","b":4333,"n":16},{"m":"July","y":2021,"r":"East","b":4417,"n":19},{"m":"July","y":2021,"r":"East","b":4500,"n":17},{"m":"July","y":2021,"r":"East","b":4583,"n":11},{"m":"July","y":2021,"r":"East","b":4667,"n":10},{"m":"July","y":2021,"r":"East","b":4750,"n":2},
{"m":"August","y":2021,"r":"East","b":1750,"n":2},{"m":"August","y":2021,"r":"East","b":1917,"n":3},{"m":"August","y":2021,"r":"East","b":2250,"n":8},{"m":"August","y":2021,"r":"East","b":2333,"n":8},{"m":"August","y":2021,"r":"East","b":2417,"n":10},{"m":"August","y":2021,"r":"East","b":2500,"n":10},{"m":"August","y":2021,"r":"East","b":2583,"n":12},{"m":"August","y":2021,"r":"East","b":2667,"n":12},{"m":"August","y":2021,"r":"East","b":2750,"n":12},{"m":"August","y":2021,"r":"East","b":2833,"n":14},{"m":"August","y":2021,"r":"East","b":2917,"n":15},{"m":"August","y":2021,"r":"East","b":3000,"n":15},{"m":"August","y":2021,"r":"East","b":3083,"n":20},{"m":"August","y":2021,"r":"East","b":3167,"n":22},{"m":"August","y":2021,"r":"East","b":3250,"n":20},{"m":"August","y":2021,"r":"East","b":3333,"n":25},{"m":"August","y":2021,"r":"East","b":3417,"n":30},{"m":"August","y":2021,"r":"East","b":3500,"n":45},{"m":"August","y":2021,"r":"East","b":3583,"n":55},{"m":"August","y":2021,"r":"East","b":3667,"n":60},{"m":"August","y":2021,"r":"East","b":3750,"n":65},{"m":"August","y":2021,"r":"East","b":3833,"n":92},{"m":"August","y":2021,"r":"East","b":3917,"n":97},{"m":"August","y":2021,"r":"East","b":4000,"n":115},{"m":"August","y":2021,"r":"East","b":4083,"n":100},{"m":"August","y":2021,"r":"East","b":4167,"n":108},{"m":"August","y":2021,"r":"East","b":4250,"n":80},{"m":"August","y":2021,"r":"East","b":4333,"n":48},{"m":"August","y":2021,"r":"East","b":4417,"n":28},{"m":"August","y":2021,"r":"East","b":4500,"n":12},{"m":"August","y":2021,"r":"East","b":4583,"n":5},{"m":"August","y":2021,"r":"East","b":4667,"n":1},{"m":"August","y":2021,"r":"East","b":4917,"n":1},{"m":"August","y":2021,"r":"East","b":5000,"n":2},
{"m":"July","y":2022,"r":"East","b":1583,"n":1},{"m":"July","y":2022,"r":"East","b":1667,"n":1},{"m":"July","y":2022,"r":"East","b":1750,"n":2},{"m":"July","y":2022,"r":"East","b":1833,"n":2},{"m":"July","y":2022,"r":"East","b":1917,"n":2},{"m":"July","y":2022,"r":"East","b":2000,"n":2},{"m":"July","y":2022,"r":"East","b":2083,"n":2},{"m":"July","y":2022,"r":"East","b":2167,"n":2},{"m":"July","y":2022,"r":"East","b":2250,"n":2},{"m":"July","y":2022,"r":"East","b":2333,"n":3},{"m":"July","y":2022,"r":"East","b":2417,"n":3},{"m":"July","y":2022,"r":"East","b":2500,"n":3},{"m":"July","y":2022,"r":"East","b":2583,"n":2},{"m":"July","y":2022,"r":"East","b":2667,"n":12},{"m":"July","y":2022,"r":"East","b":2750,"n":15},{"m":"July","y":2022,"r":"East","b":2833,"n":22},{"m":"July","y":2022,"r":"East","b":2917,"n":45},{"m":"July","y":2022,"r":"East","b":3000,"n":65},{"m":"July","y":2022,"r":"East","b":3083,"n":65},{"m":"July","y":2022,"r":"East","b":3167,"n":70},{"m":"July","y":2022,"r":"East","b":3250,"n":72},{"m":"July","y":2022,"r":"East","b":3333,"n":78},{"m":"July","y":2022,"r":"East","b":3417,"n":55},{"m":"July","y":2022,"r":"East","b":3500,"n":62},{"m":"July","y":2022,"r":"East","b":3583,"n":45},{"m":"July","y":2022,"r":"East","b":3667,"n":28},{"m":"July","y":2022,"r":"East","b":3750,"n":15},{"m":"July","y":2022,"r":"East","b":3833,"n":20},{"m":"July","y":2022,"r":"East","b":3917,"n":10},{"m":"July","y":2022,"r":"East","b":4000,"n":8},{"m":"July","y":2022,"r":"East","b":4083,"n":5},{"m":"July","y":2022,"r":"East","b":4167,"n":3},{"m":"July","y":2022,"r":"East","b":4250,"n":2},{"m":"July","y":2022,"r":"East","b":4333,"n":1},{"m":"July","y":2022,"r":"East","b":4417,"n":1},{"m":"July","y":2022,"r":"East","b":4500,"n":1},
{"m":"August","y":2022,"r":"East","b":1750,"n":2},{"m":"August","y":2022,"r":"East","b":1833,"n":3},{"m":"August","y":2022,"r":"East","b":1917,"n":5},{"m":"August","y":2022,"r":"East","b":2000,"n":8},{"m":"August","y":2022,"r":"East","b":2083,"n":10},{"m":"August","y":2022,"r":"East","b":2167,"n":12},{"m":"August","y":2022,"r":"East","b":2250,"n":15},{"m":"August","y":2022,"r":"East","b":2333,"n":20},{"m":"August","y":2022,"r":"East","b":2417,"n":25},{"m":"August","y":2022,"r":"East","b":2500,"n":30},{"m":"August","y":2022,"r":"East","b":2583,"n":35},{"m":"August","y":2022,"r":"East","b":2667,"n":45},{"m":"August","y":2022,"r":"East","b":2750,"n":55},{"m":"August","y":2022,"r":"East","b":2833,"n":60},{"m":"August","y":2022,"r":"East","b":2917,"n":75},{"m":"August","y":2022,"r":"East","b":3000,"n":85},{"m":"August","y":2022,"r":"East","b":3083,"n":88},{"m":"August","y":2022,"r":"East","b":3167,"n":72},{"m":"August","y":2022,"r":"East","b":3250,"n":62},{"m":"August","y":2022,"r":"East","b":3333,"n":52},{"m":"August","y":2022,"r":"East","b":3417,"n":42},{"m":"August","y":2022,"r":"East","b":3500,"n":36},{"m":"August","y":2022,"r":"East","b":3583,"n":30},{"m":"August","y":2022,"r":"East","b":3667,"n":25},{"m":"August","y":2022,"r":"East","b":3750,"n":18},{"m":"August","y":2022,"r":"East","b":3833,"n":12},{"m":"August","y":2022,"r":"East","b":3917,"n":8},{"m":"August","y":2022,"r":"East","b":4000,"n":5},{"m":"August","y":2022,"r":"East","b":4083,"n":3},{"m":"August","y":2022,"r":"East","b":4167,"n":2},{"m":"August","y":2022,"r":"East","b":4250,"n":1},{"m":"August","y":2022,"r":"East","b":4333,"n":1}
]},
"data":{"name":"h"},
"facet":{
 "row":{"field":"y","type":"ordinal","title":"Year","header":{"labelOrient":"right","titleOrient":"right","labelAngle":-90,"labelAnchor":"end","labelAlign":"left","titleAngle":-90,"labelPadding":4,"titlePadding":-19,"labelFontSize":7,"titleFontSize":7,"titleFontWeight":"normal","labelColor":"#1a1a1a","titleColor":"#1a1a1a"}},
 "column":{"field":"m","type":"ordinal","sort":["July","August"],"title":null,"header":{"labelFontSize":7,"labelFontWeight":"bold","labelPadding":1,"labelColor":"#000000"}}
},
"spacing":{"row":2.5,"column":3},
"spec":{
 "width":250,"height":61,
 "mark":{"type":"bar","stroke":"#333333","strokeWidth":0.5,"clip":true,"binSpacing":0},
 "encoding":{
  "x":{"field":"b","type":"quantitative","bin":{"binned":true,"step":83.333},"scale":{"domain":[750,5750],"nice":false,"zero":false},"axis":{"title":"B6","values":[1000,2000,3000,4000,5000],"format":"d"}},
  "y":{"field":"n","type":"quantitative","stack":null,"scale":{"domain":[-7,145],"nice":false,"zero":false},"axis":{"title":"Frequency","values":[0,25,50,75,100,125]}},
  "color":{"field":"r","type":"nominal","scale":{"domain":["Danube","East"],"range":["#ffffff","#8c8c8c"]},"legend":{"title":"Region","orient":"none","legendX":458,"legendY":1,"symbolType":"square","symbolSize":30,"symbolStrokeColor":"#333333","symbolStrokeWidth":0.5,"labelFontSize":7,"titleFontSize":7,"titleFontWeight":"normal","rowPadding":0,"labelOffset":1,"titlePadding":1,"padding":0}}
 }
},
"config":{
 "font":"Liberation Sans",
 "view":{"stroke":"#a6a6a6","strokeWidth":1},
 "axis":{"labelFontSize":7,"labelColor":"#4d4d4d","titleFontSize":7,"titleFontWeight":"bold","titleColor":"#000000","tickColor":"#333333","tickSize":3,"domain":false,"grid":true,"gridColor":"#f2f2f2","labelPadding":1,"titlePadding":3}
}
}
